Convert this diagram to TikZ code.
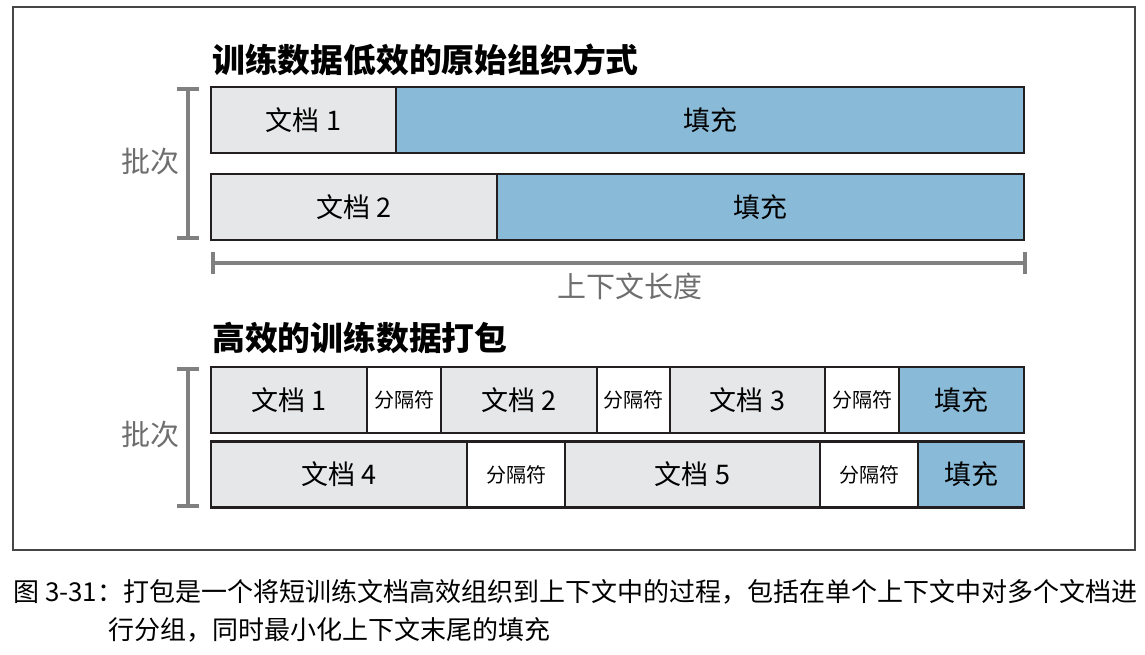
\documentclass[tikz,border=0pt]{standalone}
\usepackage{fontspec}
\setmainfont{Noto Sans CJK SC}
\usetikzlibrary{positioning,arrows.meta}
\definecolor{docgray}{RGB}{230,231,232}
\definecolor{padblue}{RGB}{137,186,216}
\definecolor{edgeblack}{RGB}{35,31,32}
\definecolor{bracegray}{RGB}{128,128,128}
\definecolor{labelgray}{RGB}{110,110,110}
\definecolor{framegray}{RGB}{70,70,70}
\tikzset
{
  cell/.style      = {draw=edgeblack, line width=2.5pt, minimum height=66pt, inner sep=0pt, outer sep=0pt, anchor=west},
  doccell/.style   = {cell, fill=docgray, font=\fontsize{27}{32}\selectfont, minimum width=#1},
  sepcell/.style   = {cell, fill=white, font=\fontsize{20}{24}\selectfont, minimum width=#1},
  padcell/.style   = {cell, fill=padblue, font=\fontsize{27}{32}\selectfont, minimum width=#1},
  heading/.style   = {anchor=west, inner sep=0pt, font=\fontsize{32.8}{38}\selectfont\bfseries},
  sidelabel/.style = {text=labelgray, inner sep=0pt, font=\fontsize{29}{34}\selectfont},
  caption/.style   = {anchor=west, inner sep=0pt, font=\fontsize{26}{30}\selectfont},
  brace/.style     = {draw=bracegray, line width=4pt, {Bar[width=22pt]}-{Bar[width=22pt]}}
}
\begin{document}
\begin{tikzpicture}[x=1pt,y=-1pt]
  \useasboundingbox (0,0) rectangle (1145,655);
  \draw[framegray, line width=1.2pt] (13,7) rectangle (1135,550);

  \node [heading] (title1) at (212,60) {训练数据低效的原始组织方式};
  \node [doccell=185pt] (a1) at (211,120) {文档 1};
  \node [padcell=628pt, right=0pt of a1] (a1pad) {填充};
  \node [doccell=286pt] (a2) at (211,207) {文档 2};
  \node [padcell=527pt, right=0pt of a2] (a2pad) {填充};

  \coordinate (batch1top) at (188,87);
  \coordinate (batch1bot) at (188,240);
  \draw [brace] (batch1top) -- (batch1bot);
  \node [sidelabel] (batch1) at (150,162) {批次};

  \coordinate (ctxleft) at (211,263);
  \coordinate (ctxright) at (1027,263);
  \draw [brace] (ctxleft) -- (ctxright);
  \node [sidelabel] (ctxlen) at (630,286) {上下文长度};

  \node [heading] (title2) at (212,338) {高效的训练数据打包};
  \node [doccell=156pt] (b1) at (211,400) {文档 1};
  \node [sepcell=74pt, right=0pt of b1] (b1sep) {分隔符};
  \node [doccell=156pt, right=0pt of b1sep] (b2) {文档 2};
  \node [sepcell=73pt, right=0pt of b2] (b2sep) {分隔符};
  \node [doccell=155pt, right=0pt of b2sep] (b3) {文档 3};
  \node [sepcell=74pt, right=0pt of b3] (b3sep) {分隔符};
  \node [padcell=125pt, right=0pt of b3sep] (b3pad) {填充};

  \node [doccell=256pt] (c4) at (211,474.5) {文档 4};
  \node [sepcell=98pt, right=0pt of c4] (c4sep) {分隔符};
  \node [doccell=255pt, right=0pt of c4sep] (c5) {文档 5};
  \node [sepcell=98pt, right=0pt of c5] (c5sep) {分隔符};
  \node [padcell=106pt, right=0pt of c5sep] (c5pad) {填充};

  \coordinate (batch2top) at (188,367);
  \coordinate (batch2bot) at (188,508);
  \draw [brace] (batch2top) -- (batch2bot);
  \node [sidelabel] (batch2) at (150,435) {批次};

  \node [caption] (cap1) at (13,592) {图 3-31：打包是一个将短训练文档高效组织到上下文中的过程，包括在单个上下文中对多个文档进};
  \node [caption] (cap2) at (108,630) {行分组，同时最小化上下文末尾的填充};
\end{tikzpicture}
\end{document}
